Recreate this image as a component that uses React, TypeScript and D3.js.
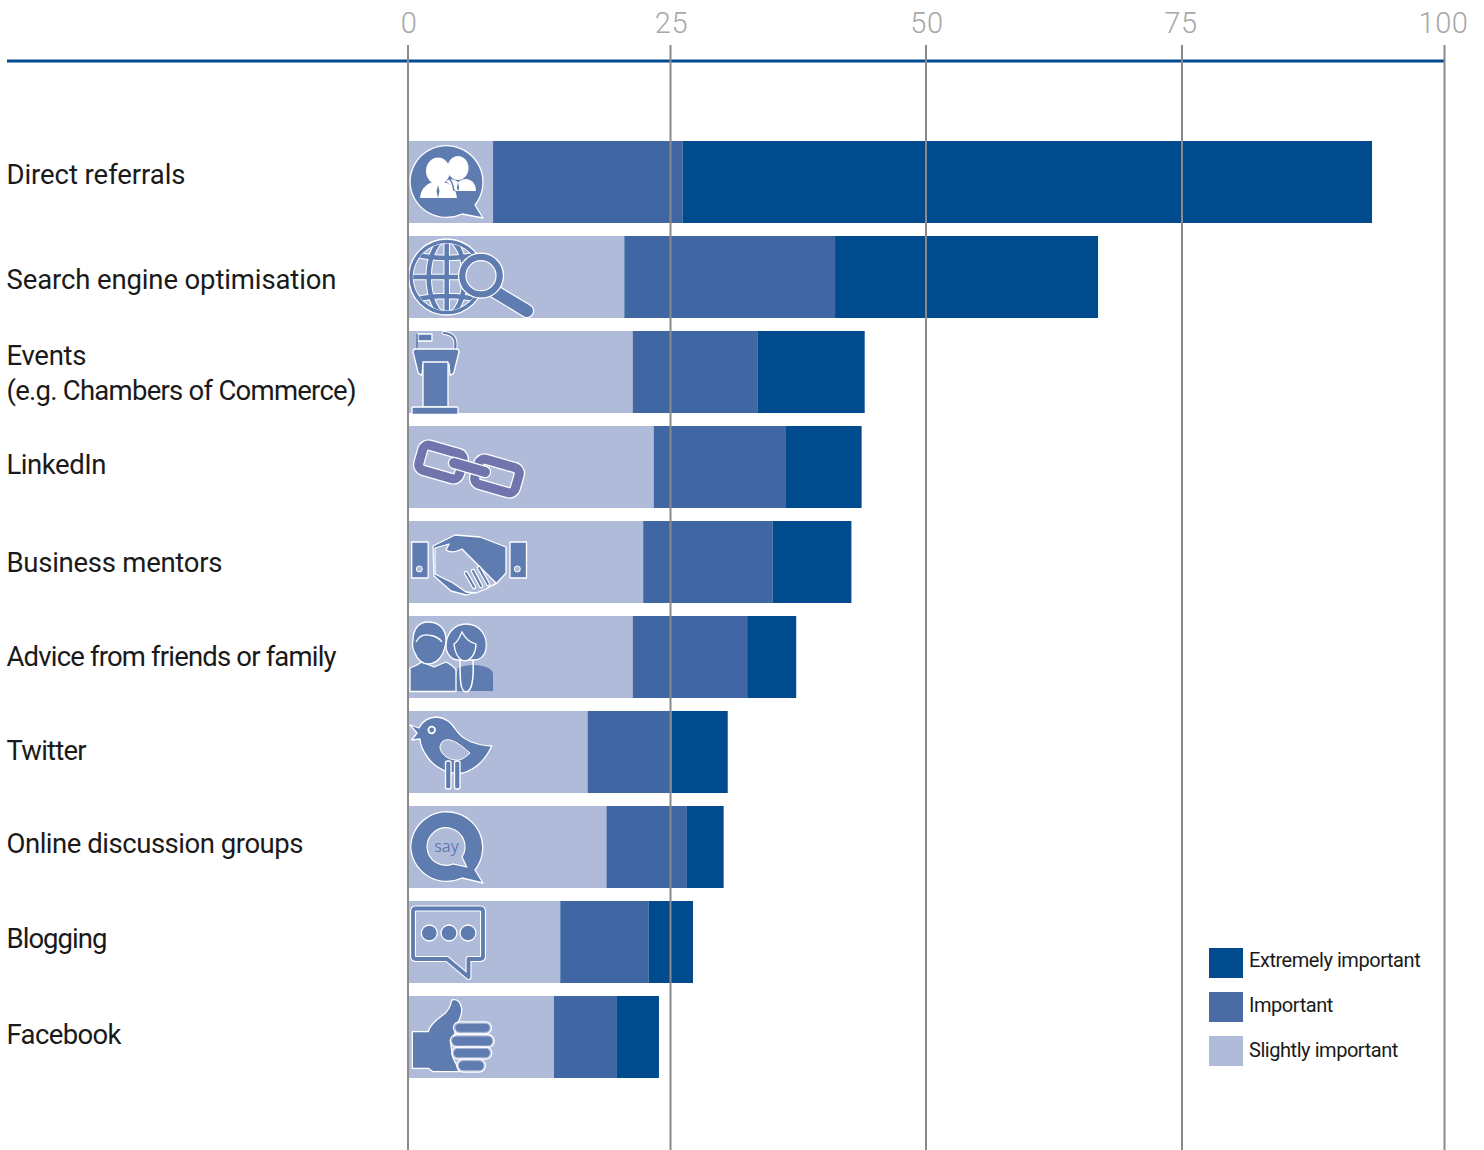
import React from "react";
import * as d3 from "d3";

const categories = ["Direct referrals","Search engine optimisation","Events|(e.g. Chambers of Commerce)","LinkedIn","Business mentors","Advice from friends or family","Twitter","Online discussion groups","Blogging","Facebook"];
const slightlyEnd = [8.1,20.6,21.4,23.4,22.4,21.4,17.1,18.9,14.5,13.9];
const importantEnd = [26.2,41.1,33.5,36.3,35.0,32.5,25.1,26.6,22.9,19.9];
const extremelyEnd = [93.1,66.8,44.0,43.7,42.7,37.3,30.6,30.2,27.2,23.9];
const ticks = [0,25,50,75,100];
const tickRange = [408,670.5,926,1182,1444.5];
const tickNudge = [1,1,1,-1,-1];
const legendItems = ["Extremely important","Important","Slightly important"];
const labelNudge = [-8,2,1,-3,0,-1,-2,-4,-4,-3];
const labelWidths = [[179],[330],[80,350],[100],[216],[330],[80],[297],[101],[115]];

const C = { extreme:"#004b8d", mid:"#4067a3", light:"#b0bbd9", icon:"#5f7cb0", chain:"#7075ae", grid:"#8a8a8c", tick:"#a8a8a8", legendMid:"#4a6ca4", text:"#1a1a1a" };
const FONT = "Roboto, 'Liberation Sans', sans-serif";

const ink = { fill:C.icon, stroke:"#fff", strokeWidth:1.3, strokeLinejoin:"round" as const };
function Ln({d,w=5,c=C.icon}:{d:string;w?:number;c?:string}){
  return <g fill="none" strokeLinecap="round" strokeLinejoin="round"><path d={d} stroke="#fff" strokeWidth={w+2.4}/><path d={d} stroke={c} strokeWidth={w}/></g>;
}
const icons:React.ReactNode[] = [
  <g key="0">
    <path {...ink} d="M 2 41 A 36.5 36.5 0 1 1 67 64 L 75 77 L 54 73 A 36.5 36.5 0 0 1 2 41 Z"/>
    <g fill="#fff">
      <ellipse cx="50" cy="27" rx="10.5" ry="12"/>
      <path d="M 38 40 Q 44 36 50 41 Q 56 36 62 39 Q 68 42 68 50 L 48 50 Z"/>
      <ellipse cx="30" cy="30" rx="12" ry="13.5"/>
      <path d="M 12 57 Q 13 46 22 42 L 30 40 L 39 42 Q 48 46 49 57 Z"/>
    </g>
    <path d="M 30 44 L 28.500 50 L 30 57 L 31.500 50 Z M 50 41 L 48.800 47 L 50 50 L 51.200 47 Z" fill={C.icon}/>
    <path d="M 41 37 Q 45 42 46 50" fill="none" stroke={C.icon} strokeWidth="1.400"/>
  </g>,
  <g key="1">
    <circle cx="38.700" cy="41" r="38" fill={C.icon} stroke="#fff" strokeWidth="1.400"/>
    <clipPath id="gb"><circle cx="38.700" cy="41" r="33.500"/></clipPath>
    <circle cx="38.700" cy="41" r="33.500" fill={C.light} stroke="#fff" strokeWidth="1"/>
    <g clipPath="url(#gb)" fill="none">
      {[["#fff",6.500],[C.icon,4.500]].map(([c,w],i)=>
        <g key={i} stroke={c as string} strokeWidth={w as number}>
          <ellipse cx="38.700" cy="41" rx="18" ry="38"/>
          <path d="M 38.700 2 V 80 M 0 41 H 78 M 5 18 Q 38 26 72 18 M 5 64 Q 38 56 72 64"/>
        </g>)}
    </g>
    <Ln d="M 86 55 L 119 75" w={12}/>
    <circle cx="73" cy="39.700" r="18.500" fill={C.light} stroke={C.icon} strokeWidth="7"/>
    <circle cx="73" cy="39.700" r="22.500" fill="none" stroke="#fff" strokeWidth="1.200"/>
    <circle cx="73" cy="39.700" r="15" fill="none" stroke="#fff" strokeWidth="1.200"/>
  </g>,
  <g key="2">
    <rect {...ink} x="10" y="3" width="14" height="7"/>
    <line x1="9" x2="9" y1="3" y2="18" stroke={C.icon} strokeWidth="1.600"/>
    <path d="M 36 2 Q 50 3 47 18" fill="none" stroke="#fff" strokeWidth="4" strokeLinecap="round"/>
    <path d="M 36 2 Q 50 3 47 18" fill="none" stroke={C.icon} strokeWidth="2.200" strokeLinecap="round"/>
    <path {...ink} d="M 5 21 Q 5 18 8 18 H 48 Q 51 18 51 21 L 46 41 Q 45 44 42 44 L 41 33 H 15 L 14 44 Q 11 44 10 41 Z"/>
    <rect {...ink} x="15" y="31" width="25" height="45"/>
    <rect {...ink} x="4" y="76" width="46" height="7.500" rx="1"/>
  </g>,
  <g key="3">
    <g transform="rotate(16 33 36)"><rect x="12" y="23" width="42" height="26" rx="6" fill="none" stroke="#fff" strokeWidth="11.500"/><rect x="12" y="23" width="42" height="26" rx="6" fill="none" stroke={C.chain} strokeWidth="9"/></g>
    <g transform="rotate(16 89 50)"><rect x="68" y="37" width="42" height="26" rx="6" fill="none" stroke="#fff" strokeWidth="11.500"/><rect x="68" y="37" width="42" height="26" rx="6" fill="none" stroke={C.chain} strokeWidth="9"/></g>
    <Ln d="M 46 37 L 77 46" w={10} c={C.chain}/>
  </g>,
  <g key="4">
    <rect {...ink} x="3.700" y="21" width="16.500" height="36"/>
    <circle cx="11.300" cy="48" r="3" fill={C.light} stroke="#fff"/>
    <rect {...ink} x="102" y="21" width="16.500" height="36"/>
    <circle cx="109.300" cy="48" r="3" fill={C.light} stroke="#fff"/>
    <path {...ink} d="M 25 25 L 47 14 L 72 16 L 98 26 V 52 L 88 63 L 72 70 L 58 74 L 43 70 L 26 55 Z"/>
    <path fill={C.light} stroke="#fff" strokeWidth="1.300" strokeLinejoin="round" d="M 27 27 L 41 23 L 38 29 Q 44 33 54 28 L 62 36 L 88 62 L 78 68 L 68 72 L 58 71 L 45 62 L 27 53 Z"/>
    <path d="M 58 52 L 66 66 M 65 50 L 73 65 M 71 47 L 80 63" stroke="#fff" strokeWidth="4.500" strokeLinecap="round" fill="none"/>
    <path d="M 58 52 L 66 66 M 65 50 L 73 65 M 71 47 L 80 63" stroke={C.icon} strokeWidth="2" strokeLinecap="round" fill="none"/>
  </g>,
  <g key="5">
    <path fill={C.icon} d="M 50 52 Q 56 49 66 49 Q 84 50 85 58 V 75 H 44 Z"/>
    <path {...ink} d="M 58 8 C 72 8 80 20 78 33 C 77 40 72 44 66 44 L 50 44 C 44 44 38 38 38 30 C 38 18 46 8 58 8 Z"/>
    <path d="M 52 44 C 52 62 52 76 58 76 C 64 76 66 62 65 44" fill="none" stroke="#fff" strokeWidth="1.500"/>
    <path d="M 46 28 C 50 26 52 20 54 16 C 58 24 62 26 68 28 C 68 36 64 44 57 45 C 50 44 47 36 46 28 Z" fill={C.icon} stroke="#fff" strokeWidth="1.300"/>
    <path {...ink} d="M 2 52 Q 8 50 14 46 L 26 51 L 38 46 Q 46 50 48 54 V 75.500 H 2 Z"/>
    <path {...ink} d="M 20 6 C 32 6 38 14 38 24 C 38 29 36 34 35 37 C 32 44 26 48 20 48 C 15 48 9 44 7 37 C 5 34 4 29 5 24 C 5 14 10 6 20 6 Z"/>
    <path d="M 8 26 Q 12 18 20 19 Q 30 20 34 26" fill="none" stroke="#fff" strokeWidth="1.300"/>
  </g>,
  <g key="6">
    <path {...ink} d="M 2 14 L 11 17 C 15 9 22 6 29 6 C 38 7 44 12 48 19 C 54 28 66 34 83.700 35 C 78 48 68 58 55 62 C 42 64 28 58 20 47 C 15 40 12 34 12 28 L 3.700 29 L 9 22 Z"/>
    <path fill={C.light} stroke="#fff" strokeWidth="1" d="M 32 37 C 32 30 37 28 42 29 C 50 31 56 37 62 42 C 57 47 52 50 47 49 C 39 48 33 43 32 37 Z"/>
    <circle cx="23.700" cy="19" r="4.200" fill="#fff"/><circle cx="23.700" cy="19" r="2.400" fill={C.icon}/>
    <rect {...ink} x="37.500" y="50" width="5.500" height="28" rx="2"/>
    <rect {...ink} x="46.500" y="50" width="5.500" height="28" rx="2"/>
  </g>,
  <g key="7">
    <path {...ink} d="M 2.700 41 A 36 36 0 1 1 67 64 L 75 77 L 54 72 A 36 36 0 0 1 2.700 41 Z"/>
    <path fill={C.light} stroke="#fff" strokeWidth="1.200" d="M 19 41 A 19 19 0 1 1 54 51 L 58.700 61 L 45 58 A 19 19 0 0 1 19 41 Z"/>
    <text x="38.500" y="46" textAnchor="middle" fontFamily="'Open Sans'" fontSize="16" fill={C.icon}>say</text>
  </g>,
  <g key="8">
    <path fill="none" stroke="#fff" strokeWidth="6" strokeLinejoin="round" d="M 8 7.500 H 72 Q 75 7.500 75 10.500 V 55 Q 75 58 72 58 H 60.500 V 76 L 39 58 H 8 Q 5 58 5 55 V 10.500 Q 5 7.500 8 7.500 Z"/>
    <path fill="none" stroke={C.icon} strokeWidth="3.800" strokeLinejoin="round" d="M 8 7.500 H 72 Q 75 7.500 75 10.500 V 55 Q 75 58 72 58 H 60.500 V 76 L 39 58 H 8 Q 5 58 5 55 V 10.500 Q 5 7.500 8 7.500 Z"/>
    {[21.300,41,60].map(x=><circle key={x} cx={x} cy="32" r="8" {...ink}/>)}
  </g>,
  <g key="9">
    <path {...ink} d="M 4.300 35.700 H 20.300 Q 22 28 35 19 Q 42 14 43.700 4 Q 52 2 53.700 13 Q 54 20 50 26 L 46 40 L 43 50 L 45 62 L 52 75.700 H 25 L 20.300 72.300 H 4.300 Z"/>
    {[[47,27.300,35,9],[43.700,40,41,10],[45.300,52.300,37,9.400],[50.300,64.700,25.700,10]].map(([x,y,w,h])=>
      <g key={y}>
        <rect x={x} y={y} width={w} height={h} rx={h/2} fill={C.icon} stroke={C.light} strokeWidth="1"/>
        <rect x={x-1.500} y={y-1.500} width={w+3} height={h+3} rx={h/2+1.500} fill="none" stroke="#fff" strokeWidth="1.300"/>
      </g>)}
  </g>,
];

export default function App(){
  const x = d3.scaleLinear().domain(ticks).range(tickRange);
  const y = d3.scaleBand().domain(categories).range([141,1078]).paddingInner(13/95).paddingOuter(0);
  return (
    <svg width={1484} height={1150} style={{position:"absolute",left:0,top:0}} fontFamily={FONT}>
      {categories.map((c,i)=>{
        const top = y(c)!, h = y.bandwidth();
        const segs:[number,number,string][] = [[0,slightlyEnd[i],C.light],[slightlyEnd[i],importantEnd[i],C.mid],[importantEnd[i],extremelyEnd[i],C.extreme]];
        const cy = top + h/2 + labelNudge[i];
        const lines = c.split("|");
        return <g key={c}>
          {segs.map(([a,b,f])=><rect key={f} x={x(a)} y={top} width={x(b)-x(a)} height={h} fill={f}/>)}
          <g transform={`translate(${x(0)},${top})`}>{icons[i]}</g>
          {lines.map((t,j)=><text key={t} x={6.500} y={cy+(j-(lines.length-1)/2)*35+9.500} fontSize={27.500} textLength={labelWidths[i][j]} lengthAdjust="spacing" fill={C.text}>{t}</text>)}
        </g>;
      })}
      <line x1={7} x2={x(100)} y1={61} y2={61} stroke={C.extreme} strokeWidth={3}/>
      {ticks.map((t,i)=><g key={t}>
        <line x1={x(t)} x2={x(t)} y1={45} y2={1150} stroke={C.grid} strokeWidth={2}/>
        <text x={x(t)+tickNudge[i]} y={33} textAnchor="middle" fontSize={29} letterSpacing={0.6} fontWeight={300} fill={C.tick}>{t}</text>
      </g>)}
      {legendItems.map((t,i)=><g key={t}>
        <rect x={1209} y={948+i*44} width={34} height={30} fill={[C.extreme,C.legendMid,C.light][i]}/>
        <text x={1249} y={967+i*45} fontSize={20} letterSpacing={-0.45} fill={C.text}>{t}</text>
      </g>)}
    </svg>
  );
}
